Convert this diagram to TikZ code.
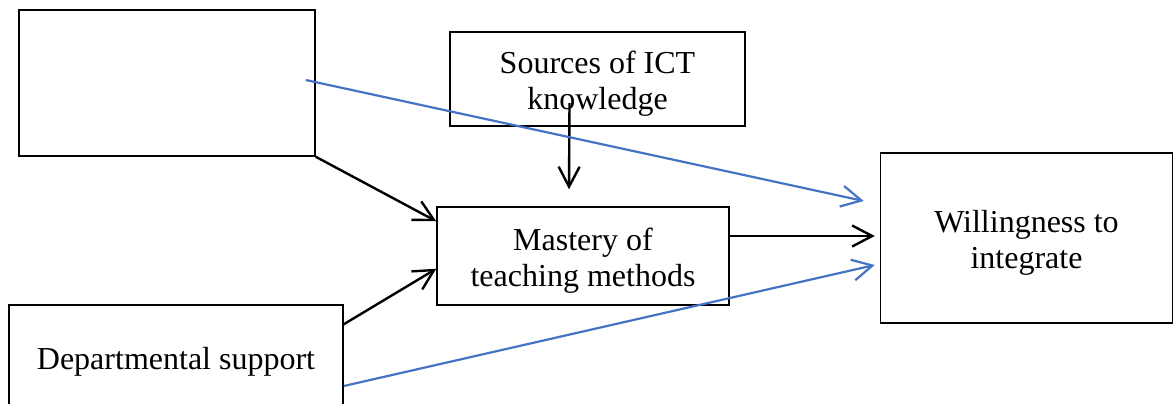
\documentclass[tikz,border=0pt]{standalone}
\usepackage{fontspec}
\setmainfont{Liberation Serif}
\usetikzlibrary{calc,arrows.meta}
\definecolor{linkblue}{RGB}{68,114,196}
\newcommand{\topstrut}{\rule{0pt}{16pt}}

\begin{document}
\begin{tikzpicture}[x=0.5pt,y=-0.5pt,
        font=\fontsize{16}{18}\selectfont,
        box/.style={draw,line width=0.75pt,align=center,inner sep=0pt},
        link/.style={line width=1.2pt,-{Straight Barb[length=10pt,width=10.5pt]}}]
        \useasboundingbox (0,0) rectangle (1173,403);

        % 方框
        \node[box,minimum width=148pt,minimum height=73pt] (blank) at (167,83) {};
        \node[box,minimum width=147.5pt,minimum height=47pt] (sources) at (597.5,79) {\topstrut Sources of ICT\\knowledge};
        \node[box,minimum width=146pt,minimum height=49pt] (mastery) at (583,256) {\topstrut Mastery of\\teaching methods};
        \node[box,minimum width=146pt,minimum height=85pt] (willing) at (1026.5,238) {\topstrut Willingness to\\integrate};
        \node[box,minimum width=167pt,minimum height=52pt] (support) at (176,357) {\topstrut Departmental support};

        % 黑色箭头
        \draw[link] (blank.south east) -- ($(mastery.north west)+(0,15)$);
        \draw[link] ($(support.north east)+(0,20)$) -- ($(mastery.south west)+(0,-37)$);
        \draw[link] ($(sources.center)+(-28,24)$) -- ($(mastery.north)+(-14,-17)$);
        \draw[link] ($(mastery.east)+(0,-20)$) -- ($(willing.west)+(-5,-2)$);

        % 蓝色箭头
        \draw[link,linkblue,line width=1.1pt] ($(blank.east)+(-10,-3)$) -- ($(willing.west)+(-16,-37)$);
        \draw[link,linkblue,line width=1.1pt] ($(support.east)+(0,29)$) -- ($(willing.west)+(-5,27)$);

    \end{tikzpicture}
\end{document}
